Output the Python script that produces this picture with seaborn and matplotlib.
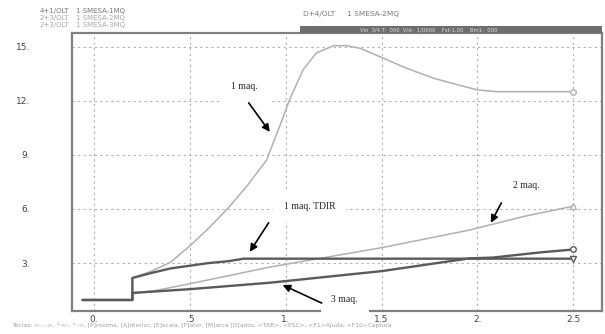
import numpy as np
import pandas as pd
import matplotlib
matplotlib.use('Agg')
import matplotlib.pyplot as plt
from matplotlib.patches import Rectangle
import seaborn as sns

# curve data (time in s, value)
t_1maq = [-0.06, 0.2, 0.2, 0.3, 0.4, 0.5, 0.6, 0.7, 0.8, 0.9, 0.98, 1.02, 1.09, 1.16, 1.25, 1.32,
          1.39, 1.5, 1.63, 1.77, 1.89, 2.0, 2.1, 2.5]
v_1maq = [0.95, 0.95, 2.17, 2.55, 3.05, 3.95, 4.95, 6.05, 7.3, 8.7, 10.9, 12.05, 13.7, 14.65, 15.05, 15.05,
          14.9, 14.4, 13.8, 13.25, 12.9, 12.6, 12.5, 12.5]
t_2maq = [-0.06, 0.2, 0.2, 0.31, 0.5, 0.92, 1.5, 1.96, 2.25, 2.5]
v_2maq = [0.95, 0.95, 1.34, 1.45, 1.85, 2.78, 3.85, 4.83, 5.6, 6.15]
t_tdir = [-0.06, 0.2, 0.2, 0.3, 0.4, 0.5, 0.6, 0.7, 0.78, 2.5]
v_tdir = [0.95, 0.95, 2.17, 2.45, 2.7, 2.85, 3.0, 3.1, 3.24, 3.24]
t_3maq = [-0.06, 0.2, 0.2, 0.5, 0.92, 1.5, 1.96, 2.08, 2.32, 2.5]
v_3maq = [0.95, 0.95, 1.34, 1.55, 1.91, 2.55, 3.26, 3.3, 3.58, 3.75]

x_ticks = [0, 0.5, 1, 1.5, 2, 2.5]
x_tick_labels = ['0.', '.5', '1.', '1.5', '2.', '2.5']
y_ticks = [3, 6, 9, 12, 15]
y_tick_labels = ['3.', '6.', '9.', '12.', '15.']

series = [('1 maq', t_1maq, v_1maq), ('2 maq', t_2maq, v_2maq),
          ('1 maq TDIR', t_tdir, v_tdir), ('3 maq', t_3maq, v_3maq)]
frames = []
for name, t, v in series:
    frames.append(pd.DataFrame({'t': t, 'v': v, 'curva': name, 'ordem': np.arange(len(t))}))
df = pd.concat(frames, ignore_index=True)

cores = {'1 maq': '#b0b0b0', '2 maq': '#b0b0b0', '1 maq TDIR': '#5a5a5a', '3 maq': '#5a5a5a'}
larguras = {'1 maq': 1.1, '2 maq': 1.1, '1 maq TDIR': 1.7, '3 maq': 1.7}
marcas = {'1 maq': 'o', '2 maq': '^', '1 maq TDIR': 'v', '3 maq': 'o'}

sns.set_style('white')
plt.rcParams['font.family'] = ['DejaVu Sans']

fig = plt.figure(figsize=(6.05, 3.34), dpi=100)
ax = fig.add_axes([0.119, 0.070, 0.876, 0.831])

for name, t, v in series:
    sub = df[df['curva'] == name]
    sns.lineplot(data=sub, x='t', y='v', sort=False, estimator=None, ax=ax,
                 color=cores[name], lw=larguras[name], legend=False, zorder=3)
    ax.plot(t[-1], v[-1], marker=marcas[name], ms=4, mfc='white', mec=cores[name],
            mew=1.0, zorder=4)

ax.set_xlim(-0.115, 2.65)
ax.set_ylim(0.36, 15.75)
ax.set_xticks(x_ticks)
ax.set_xticklabels(x_tick_labels)
ax.set_yticks(y_ticks)
ax.set_yticklabels(y_tick_labels)
ax.set_xlabel('')
ax.set_ylabel('')
ax.grid(True, color='#b0b0b0', lw=0.8, linestyle=(0, (2, 3)))
ax.tick_params(axis='both', length=0, labelsize=6.5, labelcolor='#444444')
ax.tick_params(axis='y', pad=30)
ax.tick_params(axis='x', pad=3)
for s in ax.spines.values():
    s.set_visible(True)
    s.set_color('#808080')
    s.set_linewidth(1.6)

# anotacoes com caixas brancas e setas
notas = [('1 maq.', (0.786, 12.76), (0.917, 10.27), (0.807, 11.88)),
         ('1 maq. TDIR', (1.125, 6.11), (0.8125, 3.62), (0.911, 5.23)),
         ('2 maq.', (2.255, 7.28), (2.07, 5.23), (2.125, 6.33)),
         ('3 maq.', (1.307, 0.95), (0.984, 1.78), (1.1875, 0.78))]
for txt, pos, cabeca, cauda in notas:
    ax.text(pos[0], pos[1], txt, ha='center', va='center', fontsize=7,
            family='Liberation Serif', zorder=6, clip_on=False,
            bbox=dict(boxstyle='square,pad=1.1', fc='white', ec='none'))
    ax.annotate('', xy=cabeca, xytext=cauda, zorder=7,
                arrowprops=dict(arrowstyle='-|>', color='black', lw=1.2,
                                mutation_scale=11, shrinkA=0, shrinkB=0))

# cabecalho da tela
cinza = '#7a7a7a'
fig.text(40 / 605, 1 - 11 / 334, '4+1/OLT', fontsize=5.0, color=cinza, va='center')
fig.text(40 / 605, 1 - 18 / 334, '2+3/OLT', fontsize=5.0, color='#a8a8a8', va='center')
fig.text(40 / 605, 1 - 25 / 334, '2+3/OLT', fontsize=5.0, color='#a8a8a8', va='center')
fig.text(76 / 605, 1 - 11 / 334, '1 SMESA-1MQ', fontsize=5.0, color=cinza, va='center')
fig.text(76 / 605, 1 - 18 / 334, '1 SMESA-2MQ', fontsize=5.0, color='#a8a8a8', va='center')
fig.text(76 / 605, 1 - 25 / 334, '1 SMESA-3MQ', fontsize=5.0, color='#a8a8a8', va='center')
fig.text(303 / 605, 1 - 14 / 334, 'D+4/OLT     1 SMESA-2MQ', fontsize=5.3, color=cinza, va='center')
fig.patches.append(Rectangle((300 / 605, 1 - 33 / 334), 302 / 605, 7 / 334,
                             transform=fig.transFigure, fc='#6e6e6e', ec='none', zorder=0))
fig.text(360 / 605, 1 - 29.5 / 334,
         'Vin  3/4.T-  000  V/d-  1/0000    Fst-1.00    Bm1-  000',
         fontsize=3.8, color='#dddddd', va='center')

# rodape
fig.text(12 / 605, 1 - 325 / 334,
         'Teclas: <-, ->, ^<-, ^->, [P]roxima, [A]nterior, [E]scala, [F]ator, [M]arca [D]ados, '
         '<TAB>, <ESC>, <F1>Ajuda, <F10>Captura',
         fontsize=4.3, color='#a0a0a0', va='center')

fig.savefig('out.png', dpi=100, facecolor='white')
